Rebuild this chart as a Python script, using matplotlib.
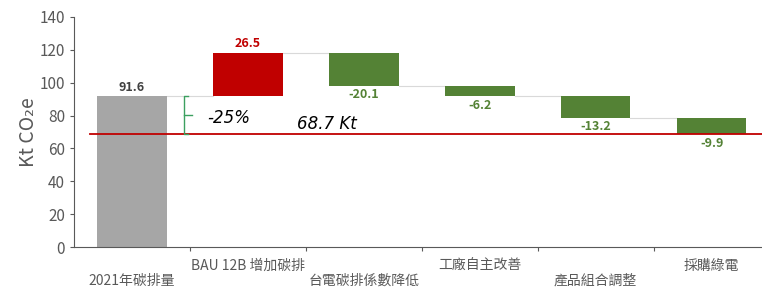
#!/usr/bin/env python3

import numpy as np
import matplotlib
matplotlib.use("Agg")
import matplotlib.pyplot as plt

plt.rcParams['font.family'] = ['Noto Sans CJK TC', 'DejaVu Sans']

categories = ["2021年碳排量", "BAU 12B 增加碳排", "台電碳排係數降低",
              "工廠自主改善", "產品組合調整", "採購綠電"]
changes = [91.6, 26.5, -20.1, -6.2, -13.2, -9.9]
labels = ["91.6", "26.5", "-20.1", "-6.2", "-13.2", "-9.9"]
target = 68.7
target_label = "68.7 Kt"
pct_label = "-25%"

GRAY = "#A6A6A6"
RED = "#C00000"
GREEN = "#548235"
TXT = "#595959"


def main():
    fig = plt.figure(figsize=(7.62, 2.91), dpi=100)
    ax = fig.add_axes([0.097, 0.151, 0.913, 0.791])

    x = np.arange(len(categories))
    ends = np.cumsum(changes)
    starts = ends - np.array(changes)
    starts[0] = 0
    colors = [GRAY] + [RED if c > 0 else GREEN for c in changes[1:]]

    w = 0.6
    for i in range(len(categories)):
        lo = min(starts[i], ends[i])
        hi = max(starts[i], ends[i])
        ax.bar(x[i], hi - lo, bottom=lo, width=w, color=colors[i], zorder=2)
        if i == 0 or changes[i] > 0:
            ax.text(x[i], hi + 1.5, labels[i], ha='center', va='bottom',
                    fontsize=9, fontweight='bold',
                    color="#404040" if i == 0 else RED)
        else:
            ax.text(x[i], lo - 1.5, labels[i], ha='center', va='top',
                    fontsize=9, fontweight='bold', color=GREEN)
        # connector to next bar
        if i < len(categories) - 1:
            ax.plot([x[i] + w / 2, x[i + 1] - w / 2], [ends[i], ends[i]],
                    color="#D9D9D9", lw=0.8, zorder=1)

    # target line
    ax.plot([-0.36, 5.6], [target, target], color=RED, lw=1.3, zorder=3)
    ax.text(1.68, target + 0.6, target_label, fontsize=12, style='italic',
            ha='center', va='bottom', color='black',
            family=['DejaVu Sans'])

    # bracket
    bx = 0.45
    ax.plot([bx + 0.03, bx, bx, bx + 0.03], [changes[0], changes[0], target, target],
            color="#3CA060", lw=1.0, zorder=3)
    mid = (changes[0] + target) / 2
    ax.plot([bx, bx + 0.07], [mid, mid], color="#3CA060", lw=1.0, zorder=3)
    ax.text(0.65, mid - 1.5, pct_label, fontsize=12, style='italic', ha='left',
            va='center', color='black', family=['DejaVu Sans'])

    ax.set_xlim(-0.5, 5.5)
    ax.set_ylim(0, 140)
    ax.set_yticks(range(0, 141, 20))
    ax.set_xticks(np.arange(0.5, 5.5, 1.0))
    ax.set_xticklabels([])
    ax.tick_params(axis='x', length=3, color=TXT)
    ax.tick_params(axis='y', length=3, color=TXT, labelsize=11, labelcolor=TXT)
    for s in ['top', 'right']:
        ax.spines[s].set_visible(False)
    ax.spines['left'].set_color(TXT)
    ax.spines['bottom'].set_color(TXT)

    for i, name in enumerate(categories):
        yoff = -0.115 if i % 2 == 0 else -0.05
        ax.text(x[i], yoff, name, transform=ax.get_xaxis_transform(),
                ha='center', va='top', fontsize=10, color=TXT)

    ax.set_ylabel("Kt CO₂e", fontsize=14, color=TXT, labelpad=0)

    plt.savefig("out.png", dpi=100)
    plt.clf()


if __name__ == "__main__":
    main()
